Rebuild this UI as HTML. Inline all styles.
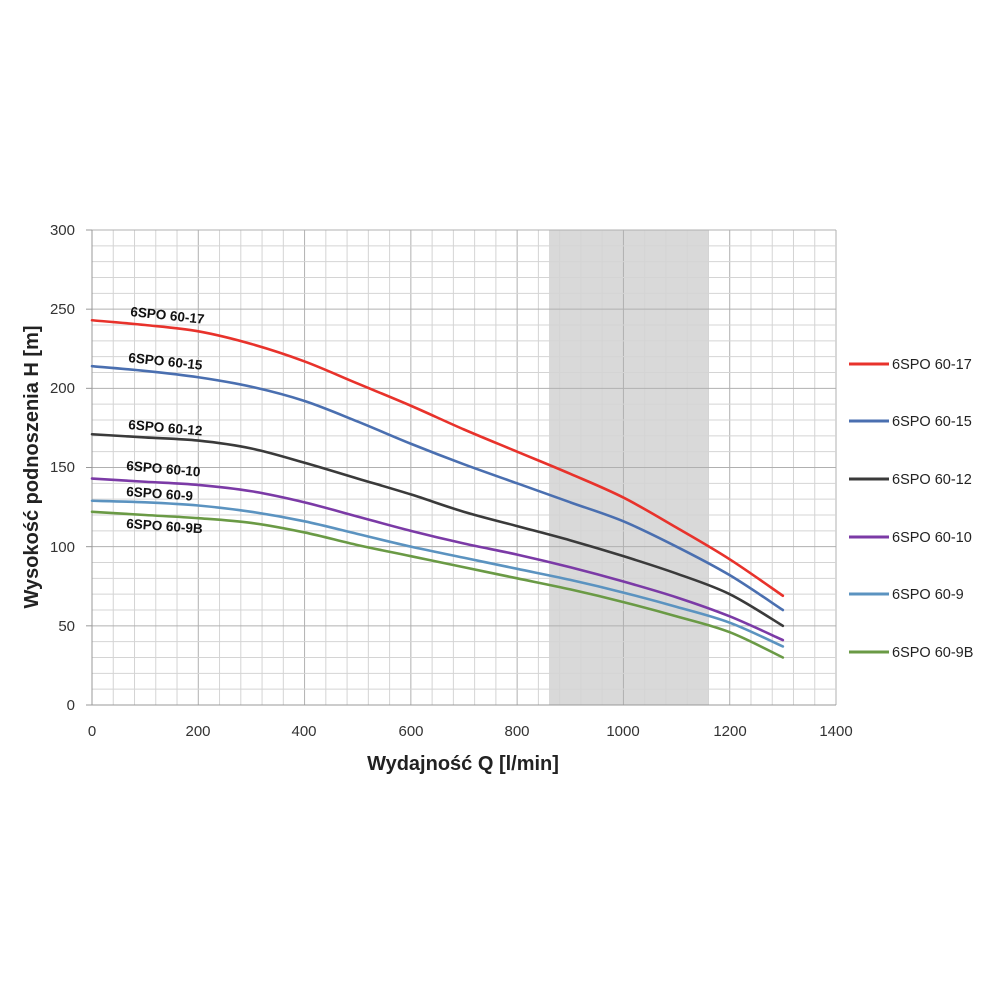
<!DOCTYPE html>
<html><head><meta charset="utf-8"><style>
html,body{margin:0;padding:0;background:#fff;}
svg{display:block;}
text{font-family:"Liberation Sans",sans-serif;}
</style></head><body>
<svg id="s" width="1000" height="1000" viewBox="0 0 1000 1000" xmlns="http://www.w3.org/2000/svg">
<rect width="1000" height="1000" fill="#fff"/>
<rect x="549" y="230" width="160" height="475" fill="#d9d9d9"/>
<g id="grid"></g>
<g id="curves" fill="none" stroke-width="2.6" stroke-linejoin="round" stroke-linecap="round"></g>
<g font-size="15" fill="#333" text-anchor="end">
<text x="75" y="235">300</text><text x="75" y="314">250</text><text x="75" y="393">200</text>
<text x="75" y="472">150</text><text x="75" y="552">100</text><text x="75" y="631">50</text><text x="75" y="710">0</text>
</g>
<g font-size="15" fill="#333" text-anchor="middle">
<text x="92" y="736">0</text><text x="198" y="736">200</text><text x="304" y="736">400</text><text x="411" y="736">600</text>
<text x="517" y="736">800</text><text x="623" y="736">1000</text><text x="730" y="736">1200</text><text x="836" y="736">1400</text>
</g>
<text x="463" y="770" font-size="20" font-weight="bold" fill="#222" text-anchor="middle">Wydajność Q [l/min]</text>
<text transform="translate(38,467) rotate(-90)" font-size="20" font-weight="bold" fill="#222" text-anchor="middle">Wysokość podnoszenia H [m]</text>
<g font-size="13.5" font-weight="bold" fill="#111">
<text transform="translate(130,316) rotate(6)">6SPO 60-17</text>
<text transform="translate(128,362) rotate(6)">6SPO 60-15</text>
<text transform="translate(128,429) rotate(5)">6SPO 60-12</text>
<text transform="translate(126,470) rotate(5)">6SPO 60-10</text>
<text transform="translate(126,496) rotate(4)">6SPO 60-9</text>
<text transform="translate(126,528) rotate(4)">6SPO 60-9B</text>
</g>
<g stroke-width="3">
<line x1="849" y1="364" x2="889" y2="364" stroke="#e8322b"/>
<line x1="849" y1="421" x2="889" y2="421" stroke="#4a6fb0"/>
<line x1="849" y1="479" x2="889" y2="479" stroke="#3a3a3a"/>
<line x1="849" y1="537" x2="889" y2="537" stroke="#7b3aa6"/>
<line x1="849" y1="594" x2="889" y2="594" stroke="#5b93c0"/>
<line x1="849" y1="652" x2="889" y2="652" stroke="#6a9a45"/>
</g>
<g font-size="14.5" fill="#222">
<text x="892" y="369">6SPO 60-17</text><text x="892" y="426">6SPO 60-15</text>
<text x="892" y="484">6SPO 60-12</text><text x="892" y="542">6SPO 60-10</text>
<text x="892" y="599">6SPO 60-9</text><text x="892" y="657">6SPO 60-9B</text>
</g>
</svg>
<script>
var NS="http://www.w3.org/2000/svg";
function X(q){return 92+q*744/1400;}
function Y(h){return 705-h*475/300;}
var g=document.getElementById('grid');
function ln(x1,y1,x2,y2,c,w){var l=document.createElementNS(NS,'line');l.setAttribute('x1',x1);l.setAttribute('y1',y1);l.setAttribute('x2',x2);l.setAttribute('y2',y2);l.setAttribute('stroke',c);l.setAttribute('stroke-width',w);g.appendChild(l);}
for(var q=0;q<=1400;q+=40){var maj=q%200==0;ln(X(q),230,X(q),705,maj?'#b0b0b0':'#d4d4d4',1);}
for(var h=0;h<=300;h+=10){var maj=h%50==0;ln(92,Y(h),836,Y(h),maj?'#b0b0b0':'#d4d4d4',1);}
ln(92,230,92,705,'#999',1);ln(92,705,836,705,'#999',1);
for(var h=0;h<=300;h+=50)ln(86,Y(h),92,Y(h),'#999',1);
var Q=[0,100,200,300,400,500,600,700,800,900,1000,1100,1200,1300];
var S=[
['#e8322b',[243,240,236,228,217,203,189,174,160,146,131,112,92,69]],
['#4a6fb0',[214,211,207,201,192,179,165,152,140,128,116,100,82,60]],
['#3a3a3a',[171,169,167,162,153,143,133,122,113,104,94,83,70,50]],
['#7b3aa6',[143,141,139,135,128,119,110,102,95,87,78,68,56,41]],
['#5b93c0',[129,128,126,122,116,108,100,93,86,79,71,62,52,37]],
['#6a9a45',[122,120,118,115,109,101,94,87,80,73,65,56,46,30]]];
var cg=document.getElementById('curves');
S.forEach(function(s){var P=Q.map(function(q,i){return [X(q),Y(s[1][i])];});
var d='M'+P[0][0]+','+P[0][1];
for(var i=0;i<P.length-1;i++){var p0=P[Math.max(i-1,0)],p1=P[i],p2=P[i+1],p3=P[Math.min(i+2,P.length-1)];
d+=' C'+(p1[0]+(p2[0]-p0[0])/6)+','+(p1[1]+(p2[1]-p0[1])/6)+' '+(p2[0]-(p3[0]-p1[0])/6)+','+(p2[1]-(p3[1]-p1[1])/6)+' '+p2[0]+','+p2[1];}
var p=document.createElementNS(NS,'path');p.setAttribute('d',d);p.setAttribute('stroke',s[0]);cg.appendChild(p);});
</script>
</body></html>
